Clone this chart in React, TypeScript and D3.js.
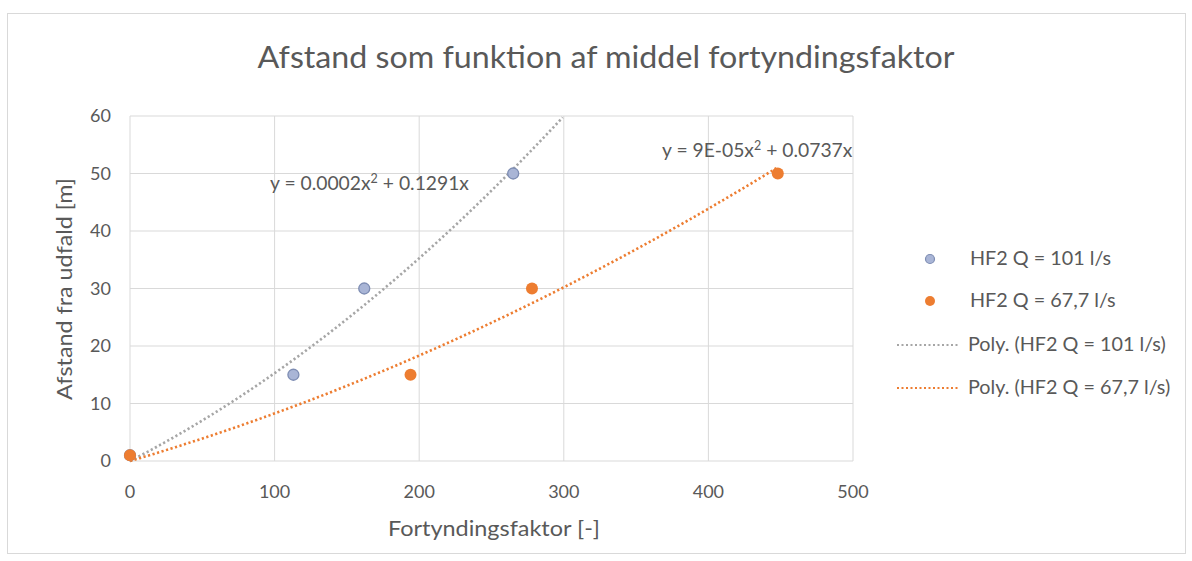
import React from "react";
import * as d3 from "d3";

const blueX = [0, 113, 162, 265];
const blueY = [1, 15, 30, 50];
const orangeX = [0, 194, 278, 448];
const orangeY = [1, 15, 30, 50];
const blueTrend = [0.000236, 0.1291]; // a, b (y = a x^2 + b x)
const orangeTrend = [0.00009, 0.0737];
const xTicks = [0, 100, 200, 300, 400, 500];
const yTicks = [0, 10, 20, 30, 40, 50, 60];
const legendLabels = ["HF2 Q = 101 l/s", "HF2 Q = 67,7 l/s", "Poly. (HF2 Q = 101 l/s)", "Poly. (HF2 Q = 67,7 l/s)"];

const W = 1192, H = 561;
const FONT = "Lato, 'Open Sans', sans-serif";
const BLUE_FILL = "#a9b5d6";
const BLUE_STROKE = "#7e8db3";
const ORANGE = "#ed7d31";
const GRAY_LINE = "#a6a6a6";
const TEXT = "#595959";

export default function App() {
  const x = d3.scaleLinear().domain([0, 500]).range([130, 853]);
  const y = d3.scaleLinear().domain([0, 60]).range([461, 116]);

  const trendPts = (coef: number[], xmax: number) => {
    const pts: [number, number][] = [];
    for (let i = 0; i <= 200; i++) {
      const xv = (xmax * i) / 200;
      const yv = coef[0] * xv * xv + coef[1] * xv;
      if (yv > 60) break;
      pts.push([xv, yv]);
    }
    return pts;
  };
  const line = d3.line<[number, number]>().x((d) => x(d[0])).y((d) => y(d[1]));
  const bluePath = line(trendPts(blueTrend, 320)) || "";
  const orangePath = line(trendPts(orangeTrend, 448)) || "";

  const legendY = [259, 301, 345, 388];

  return (
    <svg width={W} height={H} style={{ position: "absolute", left: 0, top: 0, background: "#fff" }} fontFamily={FONT}>
      <rect x={0} y={0} width={W} height={H} fill="#fff" />
      <rect x={7.5} y={13.5} width={1178} height={540} fill="#fff" stroke="#d9d9d9" />
      <text x={606} y={68} textAnchor="middle" fontSize={31} fill={TEXT} textLength={697} lengthAdjust="spacingAndGlyphs">
        Afstand som funktion af middel fortyndingsfaktor
      </text>
      <defs>
        <clipPath id="plot">
          <rect x={120} y={116} width={740} height={352} />
        </clipPath>
      </defs>
      {yTicks.map((t) => (
        <g key={"y" + t}>
          <line x1={130} x2={853} y1={y(t)} y2={y(t)} stroke="#d9d9d9" />
          <text x={111} y={y(t) + 6} textAnchor="end" fontSize={18} fill={TEXT}>{t}</text>
        </g>
      ))}
      {xTicks.map((t) => (
        <g key={"x" + t}>
          <line x1={x(t)} x2={x(t)} y1={116} y2={461} stroke="#d9d9d9" />
          <text x={x(t)} y={498} textAnchor="middle" fontSize={18} fill={TEXT}>{t}</text>
        </g>
      ))}
      <text x={494} y={536} textAnchor="middle" fontSize={21} fill={TEXT} textLength={212} lengthAdjust="spacingAndGlyphs">Fortyndingsfaktor [-]</text>
      <text transform="translate(72,289) rotate(-90)" textAnchor="middle" fontSize={21} fill={TEXT} textLength={222} lengthAdjust="spacingAndGlyphs">Afstand fra udfald [m]</text>

      <g clipPath="url(#plot)">
        <path d={bluePath} fill="none" stroke={GRAY_LINE} strokeWidth={2.6} strokeDasharray="2.2 2.5" />
        <path d={orangePath} fill="none" stroke={ORANGE} strokeWidth={2.6} strokeDasharray="2.2 2.5" />
      </g>

      {blueX.map((v, i) => (
        <circle key={"b" + i} cx={x(v)} cy={y(blueY[i])} r={5.5} fill={BLUE_FILL} stroke={BLUE_STROKE} strokeWidth={1.3} />
      ))}
      {orangeX.map((v, i) => (
        <circle key={"o" + i} cx={x(v)} cy={y(orangeY[i])} r={6} fill={ORANGE} />
      ))}

      <text x={270} y={190} fontSize={19.3} fill={TEXT}>
        y = 0.0002x<tspan dy={-7} fontSize={12.5}>2</tspan><tspan dy={7}> + 0.1291x</tspan>
      </text>
      <text x={662} y={157} fontSize={19.3} fill={TEXT}>
        y = 9E-05x<tspan dy={-7} fontSize={12.5}>2</tspan><tspan dy={7}> + 0.0737x</tspan>
      </text>

      <circle cx={930} cy={legendY[0]} r={4.5} fill={BLUE_FILL} stroke={BLUE_STROKE} strokeWidth={1.2} />
      <circle cx={930} cy={legendY[1]} r={5} fill={ORANGE} />
      <line x1={897} x2={959} y1={legendY[2]} y2={legendY[2]} stroke={GRAY_LINE} strokeWidth={2} strokeDasharray="2 2.5" />
      <line x1={897} x2={959} y1={legendY[3]} y2={legendY[3]} stroke={ORANGE} strokeWidth={2} strokeDasharray="2 2.5" />
      {legendLabels.map((l, i) => (
        <text key={l} x={i < 2 ? 970 : 968} y={legendY[i] + 6} fontSize={19.8} fill={TEXT}>{l}</text>
      ))}
    </svg>
  );
}
